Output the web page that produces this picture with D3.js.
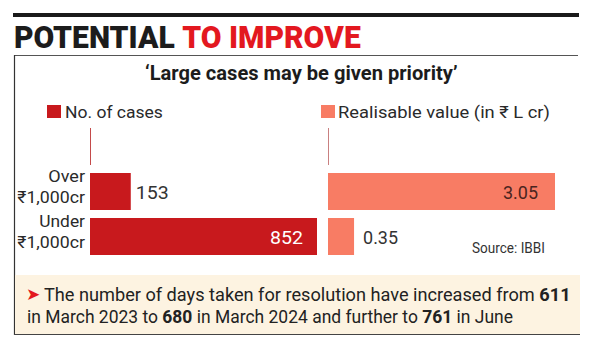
<!DOCTYPE html>
<html><head><meta charset="utf-8">
<script src="https://cdn.jsdelivr.net/npm/d3@7"></script>
<style>body{margin:0;background:#fff}svg{display:block}text{font-family:Roboto,"Noto Sans",sans-serif}</style>
</head><body>
<script>
const categories = ["", "Over|₹1,000cr", "Under|₹1,000cr"];
const cases = [0, 153, 852];
const realisable = [0, 3.05, 0.35];
const seriesNames = ["No. of cases", "Realisable value (in ₹ L cr)"];
const caseLabels = ["", "153", "852"];
const valueLabels = ["", "3.05", "0.35"];

const W = 600, H = 348;
const RED = "#c8191d", SALMON = "#f87c64";
const svg = d3.select("body").append("svg").attr("width", W).attr("height", H);

function fit(t, x, y, w) {
  const len = t.node().getBBox().width;
  t.attr("transform", `translate(${x},${y}) scale(${w / len},1)`);
  return t;
}

// top rule
svg.append("rect").attr("x", 13).attr("y", 13).attr("width", 566).attr("height", 4).attr("fill", "#1a1a1a");
// title
const title = svg.append("text").attr("font-size", 32).attr("font-weight", 900);
title.append("tspan").attr("fill", "#1c1c1c").text("POTENTIAL ");
title.append("tspan").attr("fill", "#e3181f").text("TO IMPROVE");
fit(title, 14, 48, 346);

// box lines
svg.append("line").attr("x1", 14).attr("x2", 578).attr("y1", 55.5).attr("y2", 55.5).attr("stroke", "#555").attr("stroke-width", 1);
svg.append("line").attr("x1", 14.5).attr("x2", 14.5).attr("y1", 55).attr("y2", 335).attr("stroke", "#333").attr("stroke-width", 1.2);

// subtitle
const sub = svg.append("text").attr("font-size", 21).attr("font-weight", 700).attr("fill", "#1c1c1c")
  .text("‘Large cases may be given priority’");
fit(sub, 145, 80, 313);

// legends
svg.append("rect").attr("x", 47).attr("y", 105).attr("width", 14).attr("height", 13).attr("fill", RED);
fit(svg.append("text").attr("font-size", 17).attr("fill", "#2a2a2a").text(seriesNames[0]), 65, 118, 98);
svg.append("rect").attr("x", 321).attr("y", 105).attr("width", 14).attr("height", 13).attr("fill", SALMON);
fit(svg.append("text").attr("font-size", 17).attr("fill", "#2a2a2a").text(seriesNames[1]), 338, 118, 212);

// scales
const y = d3.scaleBand().domain(categories).range([128, 255]).paddingInner(8 / 45).paddingOuter(0);
const xL = d3.scaleLinear().domain([0, 852]).range([90, 317]);
const xR = d3.scaleLinear().domain([0, 3.05]).range([328, 555]);

// baseline markers (zero bars in the header band)
svg.append("line").attr("x1", xL(0) + 0.5).attr("x2", xL(0) + 0.5).attr("y1", y("")).attr("y2", y("") + y.bandwidth())
  .attr("stroke", "#c44a4a").attr("stroke-width", 1);
svg.append("line").attr("x1", xR(0) + 0.5).attr("x2", xR(0) + 0.5).attr("y1", y("")).attr("y2", y("") + y.bandwidth())
  .attr("stroke", "#c98080").attr("stroke-width", 1);

const rows = categories.map((c, i) => ({ c, n: cases[i], v: realisable[i], nl: caseLabels[i], vl: valueLabels[i] })).slice(1);

svg.selectAll(".barL").data(rows).join("rect")
  .attr("x", xL(0)).attr("y", d => y(d.c)).attr("width", d => xL(d.n) - xL(0)).attr("height", y.bandwidth()).attr("fill", RED);
svg.selectAll(".barR").data(rows).join("rect")
  .attr("x", xR(0)).attr("y", d => y(d.c)).attr("width", d => xR(d.v) - xR(0)).attr("height", y.bandwidth()).attr("fill", SALMON);

// category labels
rows.forEach(d => {
  const [a, b] = d.c.split("|");
  const yt = y(d.c);
  const t1 = svg.append("text").attr("font-size", 17).attr("fill", "#2a2a2a").attr("text-anchor", "end").text(a);
  fit(t1, 85, yt + 9, a === "Over" ? 37 : 46);
  const t2 = svg.append("text").attr("font-size", 17).attr("fill", "#2a2a2a").attr("text-anchor", "end").text(b);
  fit(t2, 85, yt + 30, 68);
});

// value labels
rows.forEach(d => {
  const yt = y(d.c) + y.bandwidth() / 2 + 7;
  const inL = (xL(d.n) - xL(0)) > 60;
  const tl = svg.append("text").attr("font-size", 19).attr("fill", inL ? "#fff" : "#333")
    .attr("text-anchor", inL ? "end" : "start").text(d.nl);
  fit(tl, inL ? xL(d.n) - 14 : xL(d.n) + 5, yt, 33);
  const inR = (xR(d.v) - xR(0)) > 60;
  const tr = svg.append("text").attr("font-size", 19).attr("fill", inR ? "#4a2420" : "#333")
    .attr("text-anchor", inR ? "end" : "start").text(d.vl);
  fit(tr, inR ? xR(d.v) - 17 : xR(d.v) + 9, yt, 35);
});

// source
fit(svg.append("text").attr("font-size", 14).attr("fill", "#333").text("Source: IBBI"), 472, 253, 73);

// footnote
svg.append("rect").attr("x", 15).attr("y", 275).attr("width", 565).attr("height", 59).attr("fill", "#fdf3e1");
svg.append("line").attr("x1", 14).attr("x2", 580).attr("y1", 334.5).attr("y2", 334.5).attr("stroke", "#444").attr("stroke-width", 1.2);
svg.append("text").attr("x", 26).attr("y", 300).attr("font-size", 17).attr("fill", "#e3181f").text("➤");
const f1 = svg.append("text").attr("font-size", 19).attr("fill", "#222");
f1.append("tspan").text("The number of days taken for resolution have increased from ");
f1.append("tspan").attr("font-weight", 700).text("611");
fit(f1, 44, 301, 527);
const f2 = svg.append("text").attr("font-size", 19).attr("fill", "#222");
f2.append("tspan").text("in March 2023 to ");
f2.append("tspan").attr("font-weight", 700).text("680");
f2.append("tspan").text(" in March 2024 and further to ");
f2.append("tspan").attr("font-weight", 700).text("761");
f2.append("tspan").text(" in June");
fit(f2, 27, 323, 486);
</script>
</body></html>
